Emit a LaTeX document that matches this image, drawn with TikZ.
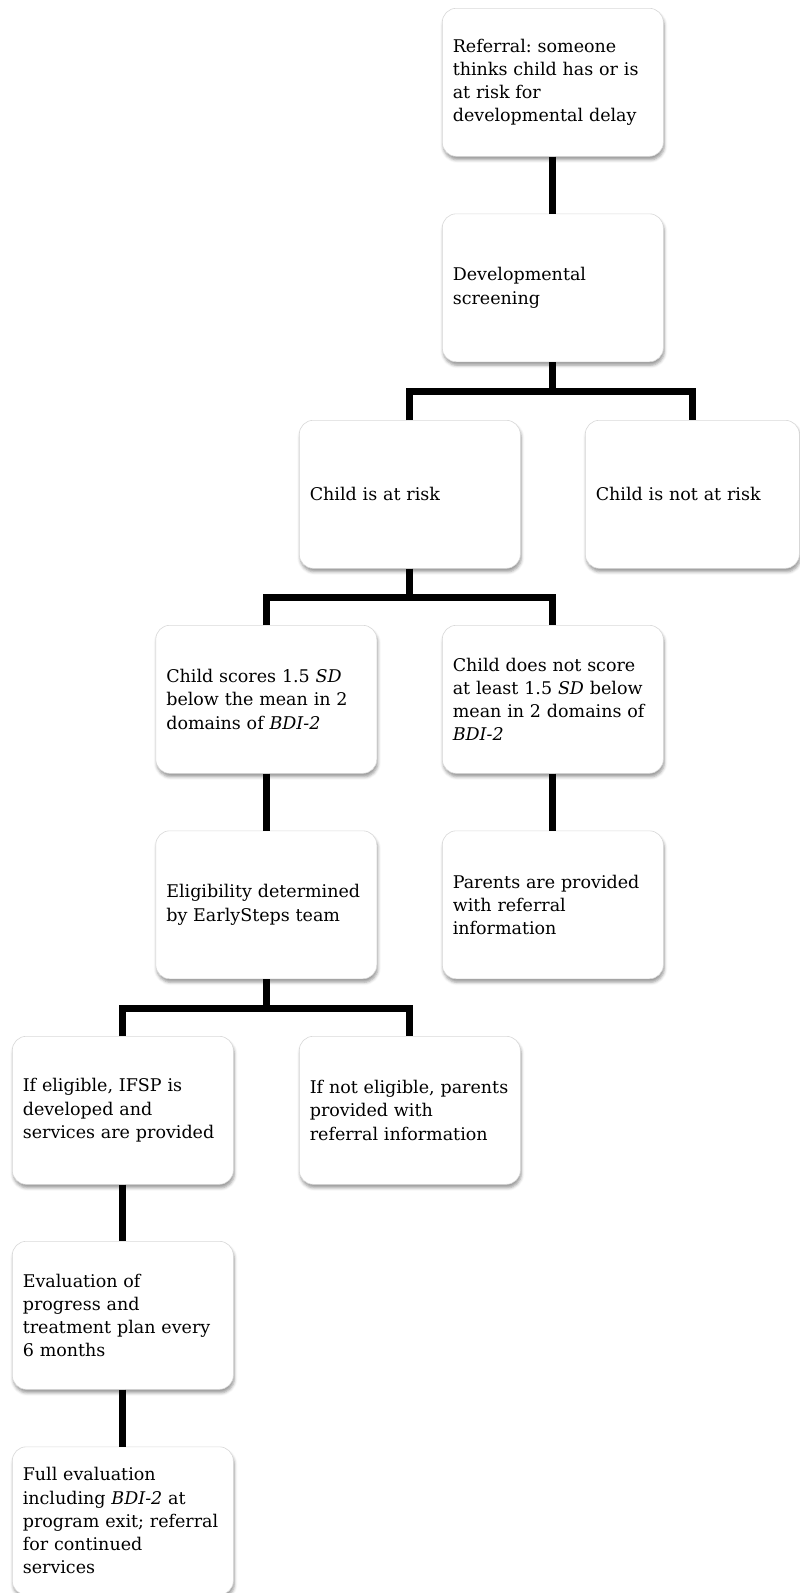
\documentclass[tikz,border=0pt]{standalone}
\usepackage{fontspec}
\setmainfont{DejaVu Serif}
\usetikzlibrary{shadows.blur}
\frenchspacing
\hyphenpenalty=10000
\exhyphenpenalty=10000
\hbadness=10000
\hfuzz=100pt
\tikzset{
  flowbox/.style={draw=black!15, line width=0.6pt, fill=white, rounded corners=14pt,
    anchor=north west, minimum width=221pt, minimum height=148pt,
    text width=200pt, align=left, inner xsep=10.5pt, inner ysep=0pt,
    font=\fontsize{17.5}{23.2}\selectfont,
    blur shadow={shadow xshift=1pt, shadow yshift=-3.5pt, shadow blur radius=3pt, shadow opacity=40}},
  conn/.style={line width=6.8pt, black, line join=miter, line cap=butt}
}
\begin{document}
\begin{tikzpicture}[x=1pt, y=-1pt]
\useasboundingbox (0,0) rectangle (800,1593);
\clip (0,0) rectangle (800,1593);
% nodes
\node[flowbox] (ref) at (442,8) {Referral: someone\\thinks child has or is\\at risk for\\developmental delay};
\node[flowbox] (scr) at (442,213.5) {Developmental\\screening};
\node[flowbox] (risk) at (299,420) {Child is at risk};
\node[flowbox, minimum width=214pt, text width=193pt] (norisk) at (585,420) {Child is not at risk};
\node[flowbox] (low) at (155.5,625) {Child scores 1.5 \textit{SD}\\below the mean in 2\\domains of \textit{BDI-2}};
\node[flowbox] (notlow) at (442,625) {Child does not score\\at least 1.5 \textit{SD} below\\mean in 2 domains of\\\textit{BDI-2}};
\node[flowbox] (elig) at (155.5,830.5) {Eligibility determined\\by EarlySteps team};
\node[flowbox] (parref) at (442,830.5) {Parents are provided\\with referral\\information};
\node[flowbox] (ifsp) at (12,1036) {If eligible, IFSP is\\developed and\\services are provided};
\node[flowbox] (notelig) at (299,1036) {If not eligible, parents\\provided with\\referral information};
\node[flowbox] (evalp) at (12,1241) {Evaluation of\\progress and\\treatment plan every\\6 months};
\node[flowbox] (full) at (12,1446.5) {Full evaluation\\including \textit{BDI-2} at\\program exit; referral\\for continued\\services};
% branch points
\coordinate (j1) at ([yshift=-29pt]scr.south);
\coordinate (j2) at ([yshift=-29pt]risk.south);
\coordinate (j3) at ([yshift=-29pt]elig.south);
% connectors
\draw[conn] (ref.south) -- (scr.north);
\draw[conn] (scr.south) -- (j1);
\draw[conn] (risk.north) -- (risk.north |- j1) -- (norisk.north |- j1) -- (norisk.north);
\draw[conn] (risk.south) -- (j2);
\draw[conn] (low.north) -- (low.north |- j2) -- (notlow.north |- j2) -- (notlow.north);
\draw[conn] (low.south) -- (elig.north);
\draw[conn] (notlow.south) -- (parref.north);
\draw[conn] (elig.south) -- (j3);
\draw[conn] (ifsp.north) -- (ifsp.north |- j3) -- (notelig.north |- j3) -- (notelig.north);
\draw[conn] (ifsp.south) -- (evalp.north);
\draw[conn] (evalp.south) -- (full.north);
\end{tikzpicture}
\end{document}
